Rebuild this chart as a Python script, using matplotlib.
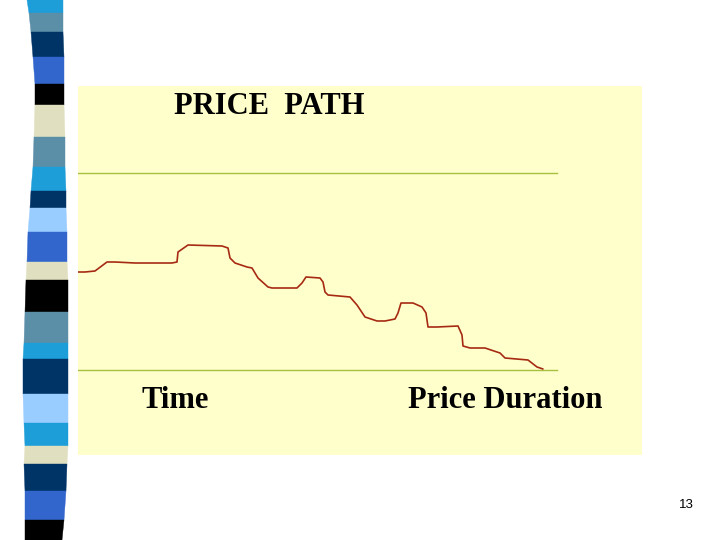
import matplotlib
matplotlib.use("Agg")
import matplotlib.pyplot as plt
from matplotlib.patches import Polygon

# price path (time from panel left, price upward)
time = [0, 7, 17, 29, 37, 57, 94, 99, 100, 110, 144, 150, 152, 157, 169, 174,
        180, 190, 194, 219, 224, 228, 242, 245, 247, 250, 272, 279, 287, 299,
        307, 317, 320, 323, 335, 344, 348, 350, 359, 380, 384, 385, 392, 407,
        422, 427, 450, 459, 465]
price = [183, 183, 184, 193, 193, 192, 192, 193, 203, 210, 209, 207, 197, 192,
         188, 187, 177, 168, 167, 167, 172, 178, 177, 173, 163, 160, 158, 150,
         138, 134, 134, 136, 142, 152, 152, 148, 142, 128, 128, 129, 120, 109,
         107, 107, 102, 97, 95, 88, 86]
upper_level = 282
lower_level = 85
line_end = 479

# decorative strip on the left of the slide
strip_colors = ["#1E9ED8", "#5B8FA8", "#003366", "#3366CC", "#000000", "#E0E0C0",
                "#5B8FA8", "#1E9ED8", "#003366", "#99CCFF", "#3366CC", "#E0E0C0",
                "#000000", "#5B8FA8", "#1E9ED8", "#003366", "#99CCFF", "#1E9ED8",
                "#E0E0C0", "#003366", "#3366CC", "#000000"]
strip_edges = [0, 13, 32, 57, 84, 105, 137, 167, 191, 208, 232, 262,
               280, 312, 343, 359, 394, 423, 446, 464, 491, 520, 540]
strip_left = [27, 29, 31, 33, 35, 35, 34, 33, 31, 30, 28, 27,
              26, 25, 24, 23, 23, 24, 25, 24, 25, 25, 25]
strip_right = [63, 63, 63, 64, 64, 64, 65, 65, 66, 66, 67, 67,
               68, 68, 68, 68, 68, 68, 68, 67, 66, 64, 62]

fig = plt.figure(figsize=(7.2, 5.4), dpi=100)
bg = fig.add_axes([0, 0, 1, 1])
bg.set_xlim(0, 720)
bg.set_ylim(540, 0)
bg.axis("off")

for i, c in enumerate(strip_colors):
    y0, y1 = strip_edges[i], strip_edges[i + 1]
    poly = Polygon([(strip_left[i], y0), (strip_right[i], y0),
                    (strip_right[i + 1], y1), (strip_left[i + 1], y1)],
                   closed=True, facecolor=c, edgecolor=c, lw=0.3)
    bg.add_patch(poly)

bg.text(686, 505, "13", fontsize=9.5, family="Liberation Sans",
        ha="center", va="center", color="black")

# yellow panel
ax = fig.add_axes([78 / 720, 1 - 455 / 540, 564 / 720, 369 / 540])
ax.set_facecolor("#FFFFCC")
ax.set_xlim(0, 564)
ax.set_ylim(0, 369)
for s in ax.spines.values():
    s.set_visible(False)
ax.set_xticks([])
ax.set_yticks([])

ax.plot([0, line_end], [upper_level, upper_level], color="#A8C040", lw=1.0)
ax.plot([0, line_end], [lower_level, lower_level], color="#A8C040", lw=1.0)
ax.plot(time, price, color="#A62A12", lw=1.2, solid_capstyle="round")

serif = ["Liberation Serif", "DejaVu Serif"]
ax.text(96, 349, "PRICE  PATH", family=serif, fontweight="bold",
        fontsize=22, ha="left", va="center")
ax.text(64, 54, "Time", family=serif, fontweight="bold",
        fontsize=22, ha="left", va="center")
ax.text(330, 54, "Price Duration", family=serif, fontweight="bold",
        fontsize=22, ha="left", va="center")

plt.savefig("out.png", dpi=100)
